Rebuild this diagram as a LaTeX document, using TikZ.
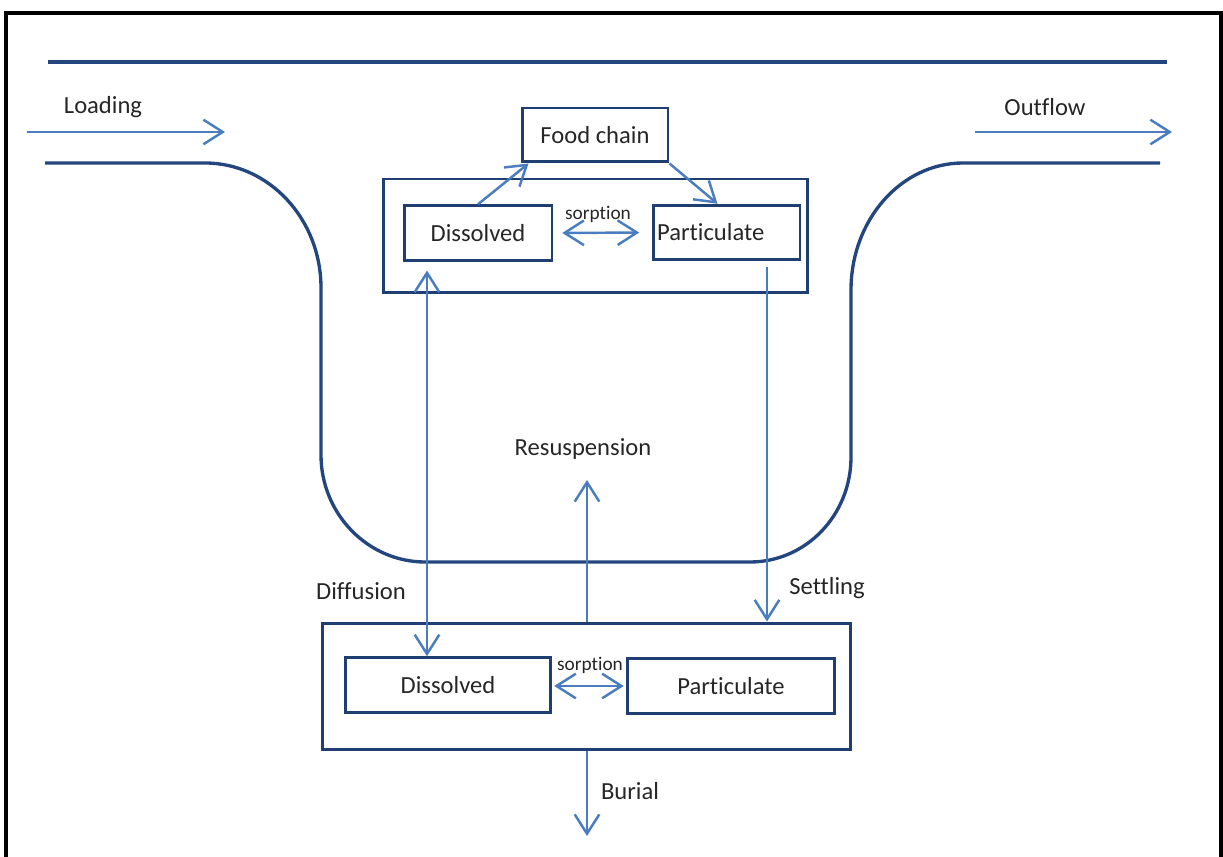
\documentclass[tikz,border=0pt]{standalone}
\usepackage{fontspec}
\setmainfont{Carlito}[Ligatures={NoCommon}]
\usepackage{tikz}
\usetikzlibrary{arrows.meta,positioning,calc}
\definecolor{bankblue}{HTML}{24467E}
\definecolor{boxblue}{HTML}{1F3F73}
\definecolor{flowblue}{HTML}{4A7DC0}
\definecolor{labelgray}{HTML}{262626}

\begin{document}
\begin{tikzpicture}[
    x=0.02cm, y=-0.02cm,
    bank/.style={line width=1.9pt, bankblue},
    frame/.style={line width=1.8pt, black},
    container/.style={
      rectangle, draw=boxblue, line width=1.7pt,
      inner sep=0pt
    },
    compart/.style={
      rectangle, draw=boxblue, line width=1.7pt,
      font=\fontsize{14}{16}\selectfont, text=labelgray,
      minimum height=1.09cm, inner sep=0pt
    },
    lbl/.style={font=\fontsize{14}{16}\selectfont, text=labelgray},
    smalllbl/.style={font=\fontsize{11}{13}\selectfont, text=labelgray},
    flow/.style={-{Straight Barb[length=11pt,width=14pt]},
      line width=1.4pt, flowblue},
    dflow/.style={{Straight Barb[length=11pt,width=14pt]}-{Straight Barb[length=11pt,width=14pt]},
      line width=1.4pt, flowblue}
  ]
  \useasboundingbox (0,0) rectangle (1223,857);

  % outer frame
  \draw[frame] (6,857) -- (6,13) -- (1221,13) -- (1221,857);

  % lake / river banks
  \draw[bank] (48,62) -- (1167,62);
  \draw[bank] (45,163) -- (205,163)
    .. controls (269,163) and (321,219) .. (321,288)
    -- (321,455)
    .. controls (321,514) and (368,562) .. (425,562)
    -- (750,562)
    .. controls (806,562) and (851,515) .. (851,457)
    -- (851,290)
    .. controls (851,220) and (901,163) .. (963,163)
    -- (1160,163);

  % water column
  \node[container, minimum width=8.5cm, minimum height=2.28cm] (water) at (595.5,236) {};
  \node[compart, minimum width=2.92cm, minimum height=1.08cm] (food) at (595,135) {Food chain};
  \node[compart, minimum width=2.96cm] (dis1) at (478,233) {\raisebox{-3pt}{Dissolved}};
  \node[compart, minimum width=2.94cm] (part1) at (726.5,232.5) {\hspace*{-18pt}Particulate};

  % sediment
  \node[container, minimum width=10.58cm, minimum height=2.54cm] (sed) at (586.5,686.5) {};
  \node[compart, minimum width=4.12cm] (dis2) at (448,685) {Dissolved};
  \node[compart, minimum width=4.16cm] (part2) at (731,686) {Particulate};

  % free ends
  \coordinate (loadin) at (27,132);
  \coordinate (loadout) at (225,132);
  \coordinate (outin) at (975,132);
  \coordinate (outout) at (1172,132);
  \coordinate (resusend) at (587,480);
  \coordinate (burialend) at (587,836);
  \coordinate (difx) at (427,0);
  \coordinate (setx) at (767,0);
  \coordinate (resx) at (587,0);

  % transfers
  \draw[flow] (loadin) -- (loadout);
  \draw[flow] (outin) -- (outout);
  \draw[flow] (dis1.north) -- ($(food.south west)+(8,0)$);
  \draw[flow] (food.south east) -- ($(part1.north)+(-9,0)$);
  \draw[dflow, shorten <=5pt, shorten >=7pt] (dis1.east) -- (part1.west);
  \draw[dflow, shorten <=1pt, shorten >=1pt] (dis2.east |- part2.west) -- (part2.west);
  \draw[dflow, shorten <=5pt] (dis1.south -| difx) -- (dis2.north -| difx);
  \draw[flow, shorten <=3pt] (part1.south -| setx) -- (sed.north -| setx);
  \draw[flow] (sed.north -| resx) -- (resusend);
  \draw[flow] (sed.south -| resx) -- (burialend);

  % labels
  \node[lbl] (loadlbl) at (103,107) {Loading};
  \node[lbl] (outlbl) at (1045,107) {Outflow};
  \node[smalllbl] (sorp1) at (598,214) {sorption};
  \node[smalllbl] (sorp2) at (590,665) {sorption};
  \node[lbl] (resuslbl) at (583,449) {Resuspension};
  \node[lbl] (diflbl) at (361,591) {Diffusion};
  \node[lbl] (setlbl) at (827,588) {Settling};
  \node[lbl] (burlbl) at (630,791) {Burial};
\end{tikzpicture}
\end{document}
